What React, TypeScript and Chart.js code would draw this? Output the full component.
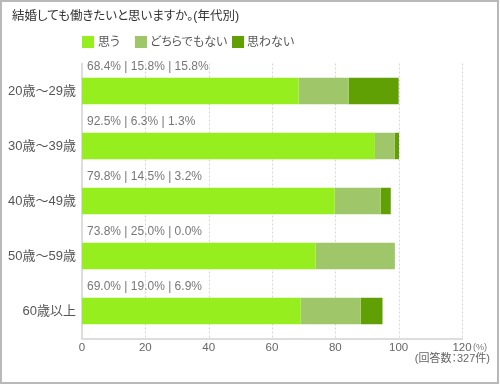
import React, { useEffect, useRef } from "react";
import { Chart, registerables } from "chart.js";

Chart.register(...registerables);

const categories = ["20歳〜29歳", "30歳〜39歳", "40歳〜49歳", "50歳〜59歳", "60歳以上"];
const seriesNames = ["思う", "どちらでもない", "思わない"];
const agree = [68.4, 92.5, 79.8, 73.8, 69.0];
const neutral = [15.8, 6.3, 14.5, 25.0, 19.0];
const disagree = [15.8, 1.3, 3.2, 0.0, 6.9];
const colors = ["#96ee1e", "#a0c66a", "#60a004"];
const xTicks = [0, 20, 40, 60, 80, 100, 120];

const FONT = '"Liberation Sans", "Noto Sans CJK JP", sans-serif';

const gridPlugin = {
  id: "dashedGrid",
  beforeDatasetsDraw(chart: any) {
    const ctx = chart.ctx;
    const xs = chart.scales.x;
    const area = chart.chartArea;
    ctx.save();
    ctx.strokeStyle = "#d6d6d6";
    ctx.lineWidth = 1;
    ctx.setLineDash([2, 2]);
    xTicks.forEach((v) => {
      if (v === 0) return;
      const px = Math.round(xs.getPixelForValue(v)) + 0.5;
      ctx.beginPath();
      ctx.moveTo(px, area.top);
      ctx.lineTo(px, area.bottom);
      ctx.stroke();
    });
    ctx.restore();
  },
};

const labelPlugin = {
  id: "barLabels",
  afterDatasetsDraw(chart: any) {
    const ctx = chart.ctx;
    const meta = chart.getDatasetMeta(0);
    ctx.save();
    ctx.font = "12px " + FONT;
    ctx.fillStyle = "#777";
    ctx.textBaseline = "middle";
    ctx.textAlign = "left";
    meta.data.forEach((el: any, i: number) => {
      const p = el.getProps(["y", "height"], true);
      const txt = [agree[i], neutral[i], disagree[i]]
        .map((v) => v.toFixed(1) + "%")
        .join(" | ");
      ctx.fillText(txt, chart.chartArea.left + 5, p.y - p.height / 2 - 11);
    });
    ctx.restore();
  },
};

export default function App() {
  const ref = useRef<HTMLCanvasElement | null>(null);

  useEffect(() => {
    if (!ref.current) return;
    const data = [agree, neutral, disagree];
    const chart = new Chart(ref.current, {
      type: "bar",
      data: {
        labels: categories,
        datasets: seriesNames.map((name, i) => ({
          label: name,
          data: data[i],
          backgroundColor: colors[i],
          borderWidth: 0,
          barPercentage: 0.48,
          categoryPercentage: 1,
        })),
      },
      options: {
        indexAxis: "y",
        responsive: false,
        maintainAspectRatio: false,
        animation: false,
        layout: { padding: { top: 63.5, right: 38, left: 0, bottom: 0 } },
        plugins: {
          legend: { display: false },
          tooltip: { enabled: false },
          title: { display: false },
        },
        scales: {
          x: {
            type: "linear",
            stacked: true,
            min: 0,
            max: 120,
            afterBuildTicks: (s: any) => {
              s.ticks = xTicks.map((v) => ({ value: v }));
            },
            afterFit: (s: any) => {
              s.height = 46.5;
            },
            ticks: {
              color: "#666",
              font: { size: 11.5, family: FONT },
              padding: 2,
            },
            grid: { display: false, drawTicks: false },
            border: { display: true, color: "#dddddd", width: 2 },
          },
          y: {
            type: "category",
            stacked: true,
            afterFit: (s: any) => {
              s.width = 82;
            },
            ticks: {
              color: "#555",
              font: { size: 13, family: FONT },
              padding: 6,
            },
            grid: { display: false, drawTicks: false },
            border: { display: true, color: "#dddddd", width: 2 },
          },
        },
      },
      plugins: [gridPlugin, labelPlugin],
    } as any);
    return () => chart.destroy();
  }, []);

  const txt: React.CSSProperties = {
    position: "absolute",
    fontFamily: FONT,
    fontFeatureSettings: '"palt"',
    whiteSpace: "nowrap",
  };

  const legendItems = [
    { box: 82, text: 98 },
    { box: 135, text: 150 },
    { box: 232, text: 247 },
  ];

  return (
    <div style={{ position: "absolute", left: 0, top: 0, width: 500, height: 385, background: "#fff" }}>
      <canvas ref={ref} width={500} height={385} style={{ position: "absolute", left: 0, top: 0, width: 500, height: 385 }} />
      <div style={{ ...txt, left: 12, top: 8, fontSize: 12.5, lineHeight: "16px", color: "#333" }}>
        結婚しても働きたいと思いますか。(年代別)
      </div>
      {legendItems.map((it, i) => (
        <React.Fragment key={i}>
          <div style={{ position: "absolute", left: it.box, top: 36, width: 12, height: 12, background: colors[i] }} />
          <div style={{ ...txt, left: it.text, top: 35, fontSize: 12, lineHeight: "14px", color: "#555" }}>
            {seriesNames[i]}
          </div>
        </React.Fragment>
      ))}
      <div style={{ ...txt, left: 473, top: 341, fontSize: 9, lineHeight: "12px", color: "#777" }}>(%)</div>
      <div style={{ ...txt, right: 10, top: 351, fontSize: 11, lineHeight: "14px", color: "#666" }}>
        (回答数：327件)
      </div>
      <div
        style={{
          position: "absolute",
          left: 0,
          top: 0,
          width: 499,
          height: 384,
          border: "2px solid #b9b9b9",
          boxSizing: "border-box",
          pointerEvents: "none",
        }}
      />
    </div>
  );
}
